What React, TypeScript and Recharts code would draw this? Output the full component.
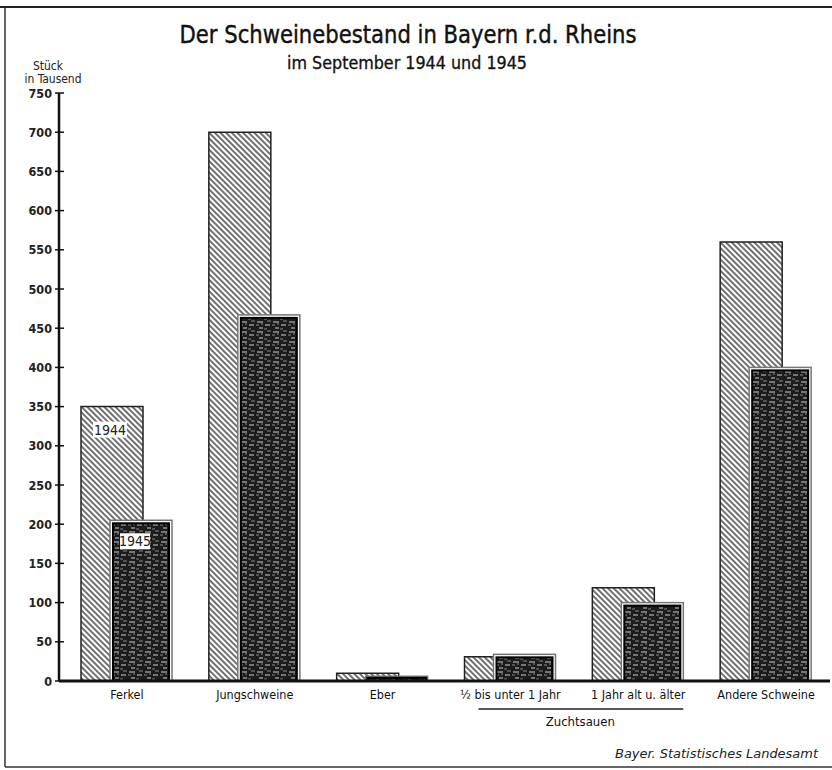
import { Bar, BarChart, LabelList, XAxis, YAxis } from "recharts";

const categories = [
  "Ferkel",
  "Jungschweine",
  "Eber",
  "½ bis unter 1 Jahr",
  "1 Jahr alt u. älter",
  "Andere Schweine",
];
const series = ["1944", "1945"];
const values1944 = [350, 700, 10, 31, 119, 560];
const values1945 = [205, 467, 6, 34, 100, 400];
const yTicks = [0, 50, 100, 150, 200, 250, 300, 350, 400, 450, 500, 550, 600, 650, 700, 750];

const data = categories.map((name, i) => ({
  name,
  [series[0]]: values1944[i],
  [series[1]]: values1945[i],
}));

const W = 832;
const H = 770;
const AXIS_X = 59;
const PLOT_RIGHT = 830;
const PAD_LEFT = 4;
const BAND = (PLOT_RIGHT - AXIS_X - PAD_LEFT) / categories.length;
const FONT = "'Liberation Sans Narrow', 'DejaVu Sans Condensed', 'Liberation Sans', sans-serif";

function YTick(props: any) {
  const { x, y, payload } = props;
  return (
    <g>
      <line x1={x + 3} x2={x + 12} y1={y} y2={y} stroke="#111" strokeWidth={1.5} />
      <text x={x} y={y} dy={4.5} textAnchor="end" fontSize={12.5} fontWeight="bold" fontFamily={FONT} fill="#222">
        {payload.value}
      </text>
    </g>
  );
}

function XTick(props: any) {
  const { x, y, payload, index } = props;
  return (
    <g>
      <text x={x} y={y} dy={10} textAnchor="middle" fontSize={12.5} fontFamily={FONT} fill="#111">
        {payload.value}
      </text>
      {index === 4 && (
        <g>
          <line x1={x - BAND - 32} x2={x + 45} y1={y + 20} y2={y + 20} stroke="#222" strokeWidth={1.5} />
          <text x={x - BAND / 2 + 6} y={y + 37} textAnchor="middle" fontSize={13} fontFamily={FONT} fill="#111">
            Zuchtsauen
          </text>
        </g>
      )}
    </g>
  );
}

function DarkBar(props: any) {
  const { x, y, width, height } = props;
  if (!height || height <= 0) return null;
  const inset = Math.min(3, height / 3);
  return (
    <g>
      <rect x={x} y={y} width={width} height={height} fill="#fff" stroke="#777" strokeWidth={1.5} />
      <rect
        x={x + inset}
        y={y + inset}
        width={Math.max(width - inset * 2, 1)}
        height={Math.max(height - inset, 1)}
        fill="url(#dark)"
        stroke="#000"
        strokeWidth={2}
      />
    </g>
  );
}

function yearTag(dx: number, dy: number, boxW: number) {
  return (props: any) => {
    const { x, y, index, value } = props;
    if (index !== 0) return null;
    return (
      <g>
        <rect x={x + dx} y={y + dy} width={boxW} height={16} fill="#fff" />
        <text
          x={x + dx + boxW / 2}
          y={y + dy + 13}
          textAnchor="middle"
          fontSize={14}
          fontFamily={FONT}
          fill="#222"
        >
          {value}
        </text>
      </g>
    );
  };
}

export default function App() {
  return (
    <div style={{ position: "absolute", left: 0, top: 0, width: W, height: H, background: "#fff" }}>
      <BarChart
        width={W}
        height={H}
        data={data}
        barGap={-33}
        margin={{ top: 93, right: W - PLOT_RIGHT, bottom: 49, left: 0 }}
      >
        <defs>
          <pattern id="hatch" width="4" height="4" patternUnits="userSpaceOnUse" patternTransform="rotate(45)">
            <rect width="4" height="4" fill="#fff" />
            <line x1="0" y1="2" x2="4" y2="2" stroke="#333" strokeWidth="1.4" />
          </pattern>
          <pattern id="dark" width="16" height="10" patternUnits="userSpaceOnUse">
            <rect width="16" height="10" fill="#1c1c1c" />
            <path d="M1 2h6M9 5h5M3 8h4" stroke="#d0d0d0" strokeWidth="1.2" />
            <path d="M11 1h4M0 5h3M8 9h3M5 4h2" stroke="#888" strokeWidth="1.2" />
          </pattern>
        </defs>
        <XAxis
          dataKey="name"
          height={40}
          padding={{ left: PAD_LEFT, right: 0 }}
          tickLine={false}
          axisLine={{ stroke: "#111", strokeWidth: 3 }}
          tick={<XTick />}
          interval={0}
        />
        <YAxis
          width={AXIS_X}
          domain={[0, 750]}
          ticks={yTicks}
          tickLine={false}
          tickSize={5}
          tickMargin={2}
          axisLine={{ stroke: "#111", strokeWidth: 2.5 }}
          tick={<YTick />}
        />
        <Bar
          dataKey={series[0]}
          barSize={62}
          fill="url(#hatch)"
          stroke="#222"
          strokeWidth={1.5}
          isAnimationActive={false}
        >
          <LabelList dataKey={() => series[0]} content={yearTag(12, 15, 34)} />
        </Bar>
        <Bar dataKey={series[1]} barSize={62} shape={<DarkBar />} isAnimationActive={false}>
          <LabelList dataKey={() => series[1]} content={yearTag(10, 13, 30)} />
        </Bar>
      </BarChart>
      <svg
        width={W}
        height={H}
        style={{ position: "absolute", left: 0, top: 0, pointerEvents: "none" }}
      >
        <line x1={0} x2={W} y1={7} y2={7} stroke="#222" strokeWidth={2} />
        <line x1={5} x2={5} y1={7} y2={767} stroke="#333" strokeWidth={1.5} />
        <line x1={5} x2={W} y1={767} y2={767} stroke="#333" strokeWidth={1.5} />
        <text x={408} y={43} textAnchor="middle" fontSize={25} fontFamily={FONT} fill="#111" stroke="#111" strokeWidth={0.4} textLength={457} lengthAdjust="spacingAndGlyphs">
          Der Schweinebestand in Bayern r.d. Rheins
        </text>
        <text x={407} y={69} textAnchor="middle" fontSize={17} fontFamily={FONT} fill="#111" stroke="#111" strokeWidth={0.3} textLength={240} lengthAdjust="spacingAndGlyphs">
          im September 1944 und 1945
        </text>
        <text x={48} y={70} textAnchor="middle" fontSize={12} fontFamily={FONT} fill="#222">
          Stück
        </text>
        <text x={53} y={83} textAnchor="middle" fontSize={12} fontFamily={FONT} fill="#222" textLength={57} lengthAdjust="spacingAndGlyphs">
          in Tausend
        </text>
        <text x={818} y={758} textAnchor="end" fontSize={13} fontStyle="italic" fontFamily={FONT} fill="#222" textLength={203} lengthAdjust="spacingAndGlyphs">
          Bayer. Statistisches Landesamt
        </text>
      </svg>
    </div>
  );
}
